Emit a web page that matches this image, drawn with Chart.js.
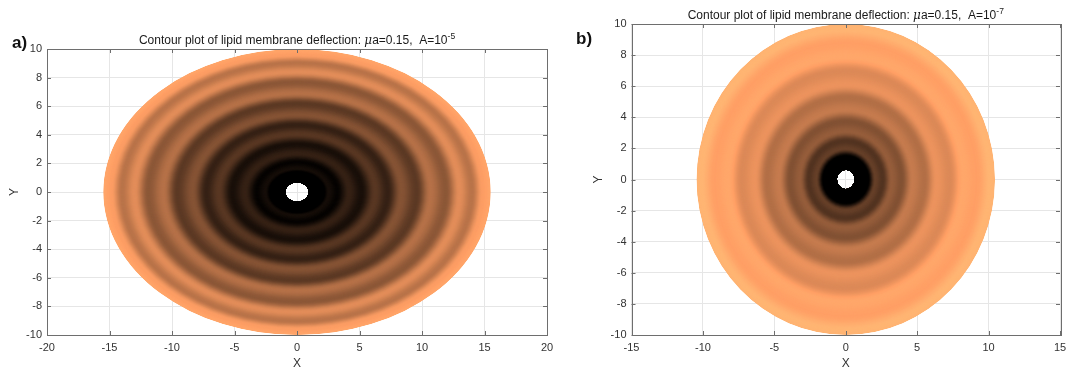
<!DOCTYPE html>
<html>
<head>
<meta charset="utf-8">
<script src="https://cdn.jsdelivr.net/npm/chart.js@4/dist/chart.umd.min.js"></script>
<style>
  html, body { margin:0; padding:0; background:#fff; }
  body { width:1083px; height:373px; position:relative; overflow:hidden; font-family:"Liberation Sans", Arial, sans-serif; }
  .box { position:absolute; top:0; height:373px; }
  #boxA { left:0; width:560px; }
  #boxB { left:580px; width:503px; }
  .panel { position:absolute; font:bold 17px "Liberation Sans", Arial, sans-serif; color:#111; line-height:1; }
</style>
</head>
<body>
<div class="box" id="boxA"><canvas id="chartA"></canvas></div>
<div class="box" id="boxB"><canvas id="chartB"></canvas></div>
<div class="panel" style="left:12px; top:34px;">a)</div>
<div class="panel" style="left:576px; top:30px;">b)</div>
<script>
// ---------- data ----------
// panel a) : A = 1e-5
const titleExpA = "-5";
const xTicksA = [-20, -15, -10, -5, 0, 5, 10, 15, 20];
const yTicksA = [-10, -8, -6, -4, -2, 0, 2, 4, 6, 8, 10];
const centerA = [0, 0];
const outerA = [15.5, 10];        // semi-axes of the membrane (x, y)
const holeA = [0.92, 0.68];       // semi-axes of the inclusion hole
// normalised radius -> copper colormap level (0 = black, 1 = light copper)
const radiusA = [0.064, 0.14, 0.165, 0.21, 0.27, 0.335, 0.405, 0.47, 0.54, 0.62, 0.69, 0.77, 0.84, 0.905, 0.96, 1.0];
const shadeA  = [0.0,   0.0,  0.07,  0.02,  0.17, 0.08,  0.28,  0.17, 0.42, 0.29, 0.57, 0.44, 0.71, 0.58,  0.79, 0.83];

// panel b) : A = 1e-7
const titleExpB = "-7";
const xTicksB = [-15, -10, -5, 0, 5, 10, 15];
const yTicksB = [-10, -8, -6, -4, -2, 0, 2, 4, 6, 8, 10];
const centerB = [0, 0];
const outerB = [10.45, 10];
const holeB = [0.62, 0.62];
const radiusB = [0.06, 0.15, 0.2, 0.25, 0.31, 0.375, 0.45, 0.53, 0.61, 0.70, 0.79, 0.88, 0.97, 1.0];
const shadeB  = [0.0,  0.0,  0.32, 0.26, 0.47, 0.41,  0.62, 0.56, 0.74, 0.69, 0.84, 0.80, 0.91, 0.90];

// ---------- helpers ----------
function copper(t) {
  t = Math.max(0, Math.min(1, t));
  const r = Math.min(1, 1.25 * t), g = 0.7812 * t, b = 0.4975 * t;
  return `rgb(${Math.round(r*255)},${Math.round(g*255)},${Math.round(b*255)})`;
}
function shadeAt(rads, vals, r) {
  if (r <= rads[0]) return vals[0];
  for (let i = 0; i < rads.length - 1; i++) {
    if (r <= rads[i+1]) {
      const f = (r - rads[i]) / (rads[i+1] - rads[i]);
      const c = (1 - Math.cos(Math.PI * f)) / 2;
      return vals[i] + (vals[i+1] - vals[i]) * c;
    }
  }
  return vals[vals.length - 1];
}

const contourPlugin = {
  id: 'contour',
  beforeDatasetsDraw(chart) {
    const spec = chart.options.plugins.contour;
    const xs = chart.scales.x, ys = chart.scales.y, ctx = chart.ctx, a = chart.chartArea;
    const cx = xs.getPixelForValue(spec.center[0]), cy = ys.getPixelForValue(spec.center[1]);
    const rx = Math.abs(xs.getPixelForValue(spec.center[0] + spec.outer[0]) - cx);
    const ry = Math.abs(ys.getPixelForValue(spec.center[1] + spec.outer[1]) - cy);
    const hx = Math.abs(xs.getPixelForValue(spec.center[0] + spec.hole[0]) - cx);
    const hy = Math.abs(ys.getPixelForValue(spec.center[1] + spec.hole[1]) - cy);
    ctx.save();
    ctx.beginPath(); ctx.rect(a.left, a.top, a.right - a.left, a.bottom - a.top); ctx.clip();
    ctx.beginPath();
    ctx.ellipse(cx, cy, rx, ry, 0, 0, Math.PI * 2);
    ctx.moveTo(cx + hx, cy);
    ctx.ellipse(cx, cy, hx, hy, 0, 0, Math.PI * 2);
    ctx.clip('evenodd');
    const n = Math.ceil(Math.max(rx, ry) * 2);
    for (let i = 0; i < n; i++) {
      const r = 1 - i / n;
      ctx.fillStyle = copper(shadeAt(spec.radius, spec.shade, r));
      ctx.beginPath();
      ctx.ellipse(cx, cy, r * rx, r * ry, 0, 0, Math.PI * 2);
      ctx.fill();
    }
    ctx.restore();
  },
  afterDatasetsDraw(chart) {
    // MATLAB-like box with inward ticks on all four sides
    const xs = chart.scales.x, ys = chart.scales.y, ctx = chart.ctx, a = chart.chartArea;
    const L = 4;
    ctx.save();
    ctx.strokeStyle = '#6e6e6e';
    ctx.lineWidth = 1;
    ctx.beginPath();
    xs.ticks.forEach(t => {
      const x = Math.round(xs.getPixelForValue(t.value)) + 0.5;
      ctx.moveTo(x, a.bottom); ctx.lineTo(x, a.bottom - L);
      ctx.moveTo(x, a.top); ctx.lineTo(x, a.top + L);
    });
    ys.ticks.forEach(t => {
      const y = Math.round(ys.getPixelForValue(t.value)) + 0.5;
      ctx.moveTo(a.left, y); ctx.lineTo(a.left + L, y);
      ctx.moveTo(a.right, y); ctx.lineTo(a.right - L, y);
    });
    ctx.stroke();
    ctx.strokeRect(Math.round(a.left) + 0.5, Math.round(a.top) + 0.5,
                   Math.round(a.right - a.left), Math.round(a.bottom - a.top));
    ctx.restore();
  },
  afterDraw(chart) {
    const spec = chart.options.plugins.contour;
    const ctx = chart.ctx, a = chart.chartArea;
    const base = '12px "Liberation Sans", Arial, sans-serif';
    const ital = 'italic 12px "DejaVu Serif", serif';
    const sup = '8.5px "Liberation Sans", Arial, sans-serif';
    const parts = [
      { t: 'Contour plot of lipid membrane deflection: ', f: base, dy: 0 },
      { t: 'μ', f: ital, dy: 0 },
      { t: 'a=0.15,  A=10', f: base, dy: 0 },
      { t: spec.exp, f: sup, dy: -5 }
    ];
    ctx.save();
    ctx.fillStyle = '#1a1a1a';
    ctx.textBaseline = 'alphabetic';
    let w = 0;
    parts.forEach(p => { ctx.font = p.f; p.w = ctx.measureText(p.t).width; w += p.w; });
    let x = (a.left + a.right) / 2 - w / 2;
    const y = a.top - spec.titleGap;
    parts.forEach(p => { ctx.font = p.f; ctx.fillText(p.t, x, y + p.dy); x += p.w; });
    ctx.restore();
  }
};

function makeChart(id, cfg) {
  const tickFont = { family: '"Liberation Sans", Arial, sans-serif', size: 11 };
  const titleFont = { family: '"Liberation Sans", Arial, sans-serif', size: 12 };
  return new Chart(document.getElementById(id), {
    type: 'scatter',
    data: { datasets: [{ data: [], pointRadius: 0 }] },
    plugins: [contourPlugin],
    options: {
      responsive: true,
      maintainAspectRatio: false,
      animation: false,
      layout: { padding: { top: cfg.padTop, right: cfg.padRight, left: 0, bottom: 0 } },
      plugins: {
        legend: { display: false },
        tooltip: { enabled: false },
        contour: {
          center: cfg.center, outer: cfg.outer, hole: cfg.hole,
          radius: cfg.radius, shade: cfg.shade, exp: cfg.exp, titleGap: cfg.titleGap
        }
      },
      scales: {
        x: {
          type: 'linear', min: cfg.xTicks[0], max: cfg.xTicks[cfg.xTicks.length - 1],
          afterBuildTicks: s => { s.ticks = cfg.xTicks.map(v => ({ value: v })); },
          afterFit: s => { s.height = 38; },
          ticks: { font: tickFont, color: '#333', padding: 6, autoSkip: false, maxRotation: 0 },
          grid: { color: '#e6e6e6', drawTicks: false },
          border: { display: false },
          title: { display: true, text: 'X', font: titleFont, color: '#333', padding: { top: 0, bottom: 2 } }
        },
        y: {
          type: 'linear', min: cfg.yTicks[0], max: cfg.yTicks[cfg.yTicks.length - 1],
          afterBuildTicks: s => { s.ticks = cfg.yTicks.map(v => ({ value: v })); },
          afterFit: s => { s.width = cfg.yWidth; },
          ticks: { font: tickFont, color: '#333', padding: 5, autoSkip: false },
          grid: { color: '#e6e6e6', drawTicks: false },
          border: { display: false },
          title: { display: true, text: 'Y', font: titleFont, color: '#333', padding: { top: cfg.yTitlePad, bottom: 0 } }
        }
      }
    }
  });
}

makeChart('chartA', {
  xTicks: xTicksA, yTicks: yTicksA, center: centerA, outer: outerA, hole: holeA,
  radius: radiusA, shade: shadeA, exp: titleExpA,
  padTop: 49, padRight: 13, yWidth: 47, yTitlePad: 7, titleGap: 5
});
makeChart('chartB', {
  xTicks: xTicksB, yTicks: yTicksB, center: centerB, outer: outerB, hole: holeB,
  radius: radiusB, shade: shadeB, exp: titleExpB,
  padTop: 24, padRight: 23, yWidth: 51.5, yTitlePad: 11, titleGap: 5
});
</script>
</body>
</html>
